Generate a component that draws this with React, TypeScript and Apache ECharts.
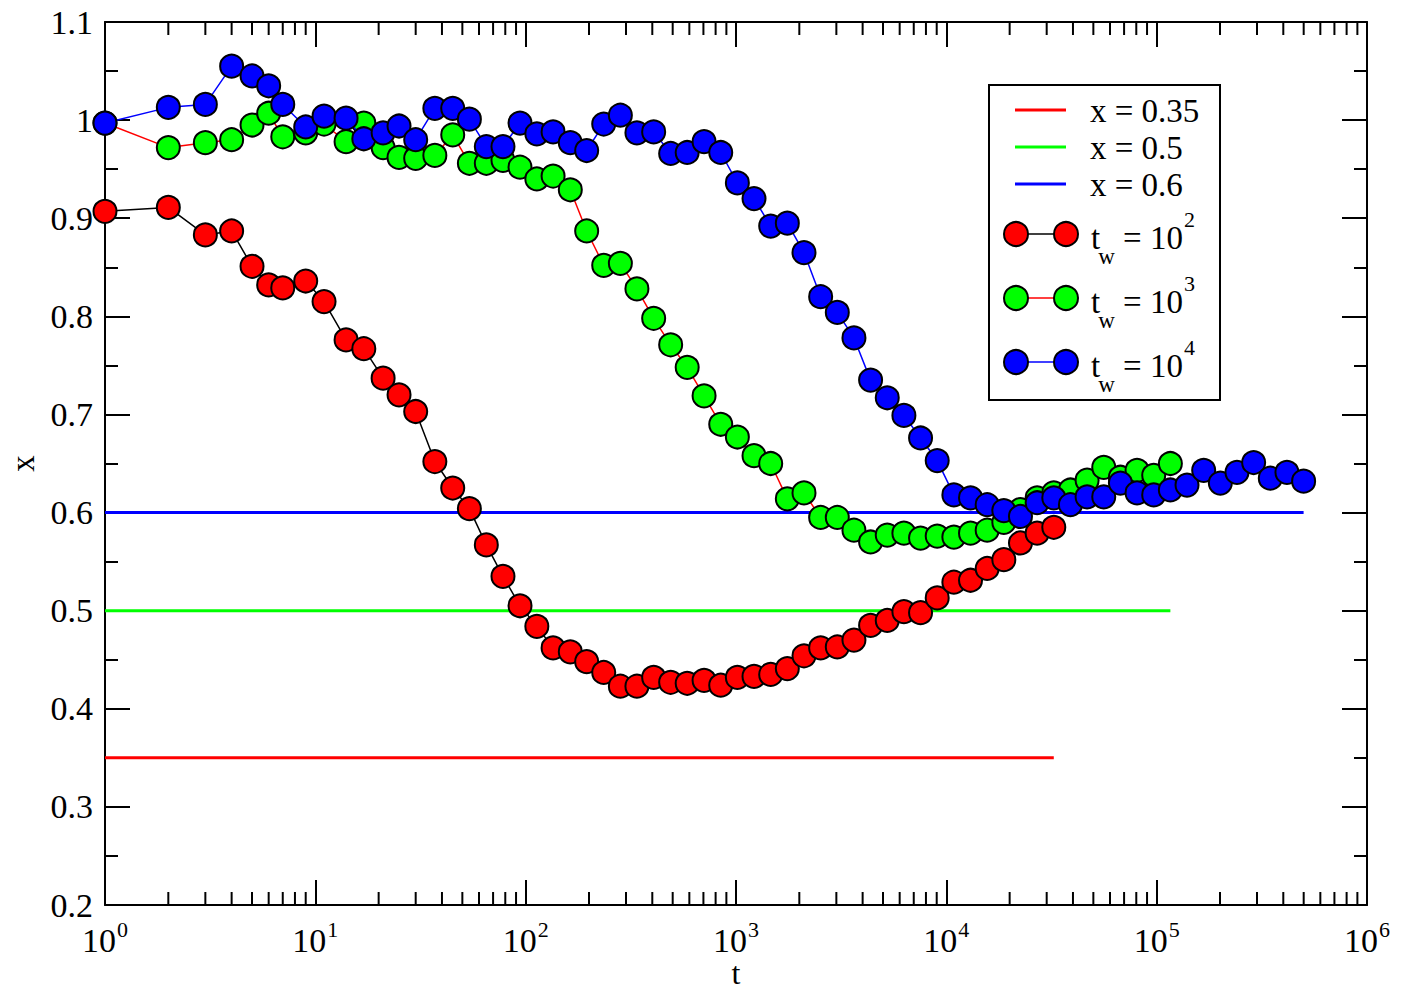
import React, { useEffect, useRef } from "react";
import * as echarts from "echarts";

// shared time grid t
const T = [1, 2, 3, 4, 5, 6, 7, 9, 11, 14, 17, 21, 25, 30, 37, 45, 54, 65, 78, 94, 113, 135, 163, 195, 235, 282, 338, 406, 489, 586, 705, 846, 1015, 1218, 1462, 1754, 2105, 2526, 3031, 3637, 4364, 5237, 6284, 7541, 9049, 10859, 13031, 15637, 18764, 22517, 27020, 32424, 38909, 46691, 56029, 67235, 80682, 96818, 116182, 139418, 167302, 200762, 240914, 289097, 346916, 416299, 499559];

// t_w = 10^2
const RED = [0.907, 0.911, 0.883, 0.887, 0.851, 0.832, 0.829, 0.836, 0.815, 0.776, 0.767, 0.737, 0.72, 0.703, 0.652, 0.625, 0.604, 0.567, 0.535, 0.505, 0.484, 0.462, 0.458, 0.448, 0.437, 0.423, 0.423, 0.432, 0.427, 0.426, 0.429, 0.424, 0.432, 0.433, 0.435, 0.441, 0.454, 0.462, 0.463, 0.47, 0.485, 0.49, 0.499, 0.498, 0.513, 0.529, 0.531, 0.543, 0.552, 0.569, 0.579, 0.585];
// t_w = 10^3
const GREEN = [0.997, 0.972, 0.977, 0.98, 0.995, 1.007, 0.983, 0.987, 0.996, 0.978, 0.997, 0.972, 0.962, 0.961, 0.964, 0.985, 0.956, 0.956, 0.959, 0.952, 0.94, 0.943, 0.929, 0.887, 0.852, 0.854, 0.828, 0.798, 0.771, 0.748, 0.719, 0.69, 0.677, 0.658, 0.65, 0.614, 0.62, 0.595, 0.595, 0.582, 0.57, 0.577, 0.579, 0.574, 0.576, 0.575, 0.579, 0.582, 0.59, 0.603, 0.615, 0.62, 0.623, 0.633, 0.646, 0.636, 0.643, 0.638, 0.65];
// t_w = 10^4
const BLUE = [0.997, 1.013, 1.016, 1.055, 1.045, 1.035, 1.016, 0.993, 1.004, 1.002, 0.981, 0.987, 0.994, 0.98, 1.012, 1.012, 1.001, 0.973, 0.973, 0.997, 0.986, 0.988, 0.977, 0.969, 0.996, 1.005, 0.987, 0.988, 0.966, 0.967, 0.978, 0.967, 0.936, 0.92, 0.892, 0.895, 0.865, 0.82, 0.804, 0.778, 0.735, 0.717, 0.699, 0.676, 0.653, 0.618, 0.615, 0.608, 0.602, 0.596, 0.61, 0.615, 0.608, 0.616, 0.616, 0.63, 0.62, 0.618, 0.623, 0.628, 0.643, 0.63, 0.641, 0.651, 0.635, 0.641, 0.632];

const REF_LEVELS = [0.35, 0.5, 0.6];
const REF_NAMES = ["x = 0.35", "x = 0.5", "x = 0.6"];
const TW_EXP = [2, 3, 4];

const Y_MIN = 0.2;
const Y_MAX = 1.1;
const X_MIN = 1;
const X_MAX = 1e6;

const FONT = "Liberation Serif";

const SETS = [
  { vals: RED, fill: "#ff0000", line: "#000000" },
  { vals: GREEN, fill: "#00ff00", line: "#ff0000" },
  { vals: BLUE, fill: "#0000ff", line: "#0000ff" },
];

function pairs(vals: number[]) {
  return vals.map((v, i) => [T[i], v]);
}

export default function App() {
  const ref = useRef<HTMLDivElement>(null);
  useEffect(() => {
    document.body.style.margin = "0";
    const chart = echarts.init(ref.current!, null, { renderer: "svg" });

    const minorTicks: number[][] = [];
    for (let d = 0; d < 6; d++) {
      for (let k = 2; k <= 9; k++) minorTicks.push([k * Math.pow(10, d), Y_MIN]);
    }

    const axisLine = { show: true, lineStyle: { color: "#000", width: 2 } };

    const refSeries = REF_LEVELS.map((lvl, i) => {
      const last = T[SETS[i].vals.length - 1];
      return {
        type: "line",
        name: REF_NAMES[i],
        data: [
          [T[0], lvl],
          [last, lvl],
        ],
        showSymbol: false,
        symbol: "none",
        lineStyle: { color: SETS[i].fill, width: 3 },
        z: 2,
        silent: true,
      };
    });

    const dataSeries = SETS.map((s, i) => ({
      type: "line",
      name: "tw" + TW_EXP[i],
      data: pairs(s.vals),
      symbol: "circle",
      symbolSize: 23,
      showSymbol: true,
      showAllSymbol: true,
      clip: false,
      lineStyle: { color: s.line, width: 1.5 },
      itemStyle: { color: s.fill, borderColor: "#000", borderWidth: 2 },
      z: 3 + i,
      silent: true,
    }));

    const legendX = 989;
    const legendY = 85;
    const gfx: any[] = [
      {
        type: "rect",
        shape: { x: legendX, y: legendY, width: 231, height: 315 },
        style: { fill: "#fff", stroke: "#000", lineWidth: 2 },
        z: 100,
      },
    ];
    const refRowsY = [110, 147, 184];
    REF_NAMES.forEach((nm, i) => {
      gfx.push({
        type: "line",
        shape: { x1: 1015, y1: refRowsY[i], x2: 1066, y2: refRowsY[i] },
        style: { stroke: SETS[i].fill, lineWidth: 3 },
        z: 101,
      });
      gfx.push({
        type: "text",
        x: 1090,
        y: refRowsY[i] + 1,
        style: {
          text: nm,
          fontFamily: FONT,
          fontSize: 33,
          fill: "#000",
          verticalAlign: "middle",
          align: "left",
        },
        z: 101,
      });
    });
    const twRowsY = [234, 298, 362];
    TW_EXP.forEach((e, i) => {
      const y = twRowsY[i];
      gfx.push({
        type: "line",
        shape: { x1: 1016, y1: y, x2: 1066, y2: y },
        style: { stroke: SETS[i].line, lineWidth: 1.5 },
        z: 101,
      });
      [1016, 1066].forEach((cx) =>
        gfx.push({
          type: "circle",
          shape: { cx, cy: y, r: 12 },
          style: { fill: SETS[i].fill, stroke: "#000", lineWidth: 2 },
          z: 102,
        })
      );
      gfx.push({
        type: "text",
        x: 1091,
        y: y + 4,
        style: {
          text: `{m|t}{sub|w}{m| = 10}{sup|${e}}`,
          verticalAlign: "middle",
          align: "left",
          fill: "#000",
          rich: {
            m: { fontFamily: FONT, fontSize: 33, lineHeight: 60, fill: "#000" },
            sub: { fontFamily: FONT, fontSize: 23, lineHeight: 26, verticalAlign: "bottom", fill: "#000", padding: [0, 0, 0, -2] },
            sup: { fontFamily: FONT, fontSize: 22, lineHeight: 36, verticalAlign: "top", fill: "#000", padding: [0, 0, 0, 1] },
          },
        },
        z: 101,
      });
    });

    const option: any = {
      animation: false,
      backgroundColor: "#fff",
      grid: { left: 105, top: 22, right: 52, bottom: 86, containLabel: false, outerBoundsMode: "none" },
      xAxis: [
        {
          type: "log",
          logBase: 10,
          min: X_MIN,
          max: X_MAX,
          interval: 1,
          position: "bottom",
          name: "t",
          nameLocation: "middle",
          nameGap: 53,
          nameMoveOverlap: false,
          nameTextStyle: { fontFamily: FONT, fontSize: 32, lineHeight: 30, color: "#000" },
          axisLine,
          axisTick: { show: true, inside: true, length: 25, lineStyle: { color: "#000", width: 2 } },
          minorTick: { show: false },
          splitLine: { show: false },
          axisLabel: {
            margin: 13,
            formatter: (v: number) => `{b|10}{s|${Math.round(Math.log10(v))}}`,
            rich: {
              b: { fontFamily: FONT, fontSize: 34, lineHeight: 44, color: "#000" },
              s: { fontFamily: FONT, fontSize: 22, lineHeight: 28, verticalAlign: "top", color: "#000", padding: [0, 0, 0, 1] },
            },
          },
        },
        {
          type: "log",
          logBase: 10,
          min: X_MIN,
          max: X_MAX,
          interval: 1,
          position: "top",
          axisLine,
          axisTick: { show: true, inside: true, length: 25, lineStyle: { color: "#000", width: 2 } },
          axisLabel: { show: false },
          splitLine: { show: false },
        },
      ],
      yAxis: [
        {
          type: "value",
          min: Y_MIN,
          max: Y_MAX,
          interval: 0.1,
          position: "left",
          name: "x",
          nameLocation: "middle",
          nameGap: 63,
          nameRotate: 90,
          nameTextStyle: { fontFamily: FONT, fontSize: 33, color: "#000" },
          axisLine,
          axisTick: { show: true, inside: true, length: 25, lineStyle: { color: "#000", width: 2 } },
          minorTick: { show: true, splitNumber: 2, length: 13, lineStyle: { color: "#000", width: 2 } },
          splitLine: { show: false },
          axisLabel: {
            margin: 12,
            fontFamily: FONT,
            fontSize: 34,
            color: "#000",
            formatter: (v: number) => String(Math.round(v * 10) / 10),
          },
        },
        {
          type: "value",
          min: Y_MIN,
          max: Y_MAX,
          interval: 0.1,
          position: "right",
          axisLine,
          axisTick: { show: true, inside: true, length: 25, lineStyle: { color: "#000", width: 2 } },
          minorTick: { show: true, splitNumber: 2, length: 13, lineStyle: { color: "#000", width: 2 } },
          splitLine: { show: false },
          axisLabel: { show: false },
        },
      ],
      series: [
        {
          type: "custom",
          name: "minorTicks",
          data: minorTicks,
          silent: true,
          clip: false,
          z: 1,
          renderItem: (params: any, api: any) => {
            const t = api.value(0);
            const pb = api.coord([t, Y_MIN]);
            const pt = api.coord([t, Y_MAX]);
            return {
              type: "group",
              children: [
                { type: "line", shape: { x1: pb[0], y1: pb[1], x2: pb[0], y2: pb[1] - 13 }, style: { stroke: "#000", lineWidth: 2 } },
                { type: "line", shape: { x1: pt[0], y1: pt[1], x2: pt[0], y2: pt[1] + 13 }, style: { stroke: "#000", lineWidth: 2 } },
              ],
            };
          },
        },
        ...refSeries,
        ...dataSeries,
      ],
      graphic: gfx,
    };
    chart.setOption(option);
    return () => chart.dispose();
  }, []);
  return <div ref={ref} style={{ position: "fixed", left: 0, top: 0, width: 1419, height: 991 }} />;
}
